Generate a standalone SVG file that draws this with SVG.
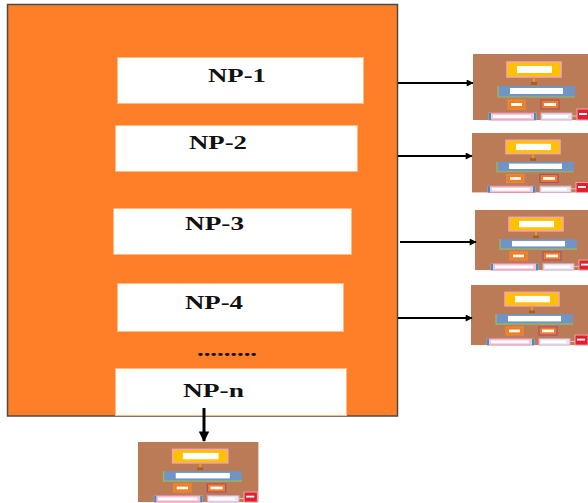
<svg xmlns="http://www.w3.org/2000/svg" xmlns:xlink="http://www.w3.org/1999/xlink" width="588" height="503" viewBox="0 0 588 503">
<style>
.np{fill:#fff;stroke:#FDBA84;stroke-width:1}
.lbl{font-family:"Liberation Serif",serif;font-weight:bold;font-size:19px;fill:#111;text-anchor:middle}
.conn{stroke:#000;stroke-width:2;fill:none;marker-end:url(#ah)}
</style>
<defs>
<marker id="ah" viewBox="0 0 10 10" refX="9" refY="5" markerWidth="4.5" markerHeight="3.5" orient="auto" markerUnits="strokeWidth">
<path d="M0,0 L10,5 L0,10 z" fill="#000"/>
</marker>
<g id="thumb">
<rect x="0" y="0" width="118" height="66" fill="#BC7B57"/>
<rect x="34" y="8" width="54" height="15" fill="#FFC000" stroke="#F4A6B4" stroke-width="1.5"/>
<rect x="44" y="12" width="35" height="7" fill="#fff"/>
<rect x="60" y="23" width="2" height="8" fill="#F7941D"/>
<rect x="58" y="28" width="6" height="3" fill="#A0602A"/>
<rect x="25" y="32" width="77" height="11" fill="#7094C4"/>
<path d="M25,32 V43 H102" stroke="#9BBB59" stroke-width="1.2" fill="none"/>
<rect x="37" y="34" width="53" height="6" fill="#fff"/>
<rect x="35" y="46" width="17" height="9" fill="#F47B20" stroke="#E8913C" stroke-width="1"/>
<rect x="38" y="49" width="11" height="3" fill="#fff"/>
<rect x="68" y="46" width="18" height="9" fill="#F47B20" stroke="#A0507A" stroke-width="1.2"/>
<rect x="71" y="49" width="12" height="3" fill="#fff"/>
<rect x="16" y="59" width="47" height="7" fill="#F7C6D4" stroke="#E68AB0" stroke-width="1"/>
<rect x="61" y="59" width="2" height="7" fill="#1F9BD7"/>
<rect x="16" y="59" width="2" height="7" fill="#1F9BD7"/>
<rect x="20" y="61" width="38" height="3" fill="#fff"/>
<rect x="68" y="59" width="31" height="7" fill="#E4E8F4" stroke="#D9A6C4" stroke-width="1"/>
<rect x="70" y="61" width="25" height="3" fill="#fff"/>
<line x1="99" y1="62" x2="104" y2="62" stroke="#F4C6A0" stroke-width="1"/>
<rect x="104" y="55" width="13" height="11" fill="#E0202E" stroke="#F4A6B4" stroke-width="1"/>
<rect x="106" y="59" width="8" height="2" fill="#fff"/>
</g>
</defs>
<g id="main">
<rect x="7.5" y="4.5" width="390" height="411.5" fill="#FE7F28" stroke="#4A4A4A" stroke-width="1.5"/>
</g>
<g id="np1">
<rect class="np" x="117.5" y="57.5" width="246" height="46"/>
<text class="lbl" x="237" y="82" textLength="58" lengthAdjust="spacingAndGlyphs">NP-1</text>
</g>
<g id="np2">
<rect class="np" x="115.5" y="125.5" width="242" height="46"/>
<text class="lbl" x="218" y="149" textLength="58" lengthAdjust="spacingAndGlyphs">NP-2</text>
</g>
<g id="np3">
<rect class="np" x="113.5" y="208.5" width="238" height="46"/>
<text class="lbl" x="214.5" y="230" textLength="59" lengthAdjust="spacingAndGlyphs">NP-3</text>
</g>
<g id="np4">
<rect class="np" x="117.5" y="283.5" width="226" height="48"/>
<text class="lbl" x="214" y="309" textLength="58" lengthAdjust="spacingAndGlyphs">NP-4</text>
</g>
<g id="dots">
<text class="lbl" x="227" y="356" textLength="60" lengthAdjust="spacingAndGlyphs">.........</text>
</g>
<g id="npn">
<rect class="np" x="115.5" y="368.5" width="231" height="47"/>
<text class="lbl" x="213.5" y="397" textLength="61" lengthAdjust="spacingAndGlyphs">NP-n</text>
</g>
<g id="thumb1"><use xlink:href="#thumb" transform="translate(473,54) scale(1,1)"/></g>
<g id="thumb2"><use xlink:href="#thumb" transform="translate(472,133) scale(1,0.9)"/></g>
<g id="thumb3"><use xlink:href="#thumb" transform="translate(475,210) scale(1,0.91)"/></g>
<g id="thumb4"><use xlink:href="#thumb" transform="translate(471,285) scale(1,0.91)"/></g>
<g id="thumb5"><use xlink:href="#thumb" transform="translate(138,442) scale(1.02,0.91)"/></g>
<g id="connectors">
<line class="conn" x1="398" y1="83" x2="473" y2="83"/>
<line class="conn" x1="398" y1="156" x2="472" y2="156"/>
<line class="conn" x1="400" y1="242" x2="476" y2="242"/>
<line class="conn" x1="398" y1="318" x2="472" y2="318"/>
<line class="conn" x1="204" y1="408" x2="204" y2="441" style="stroke-width:3"/>
</g>
</svg>
